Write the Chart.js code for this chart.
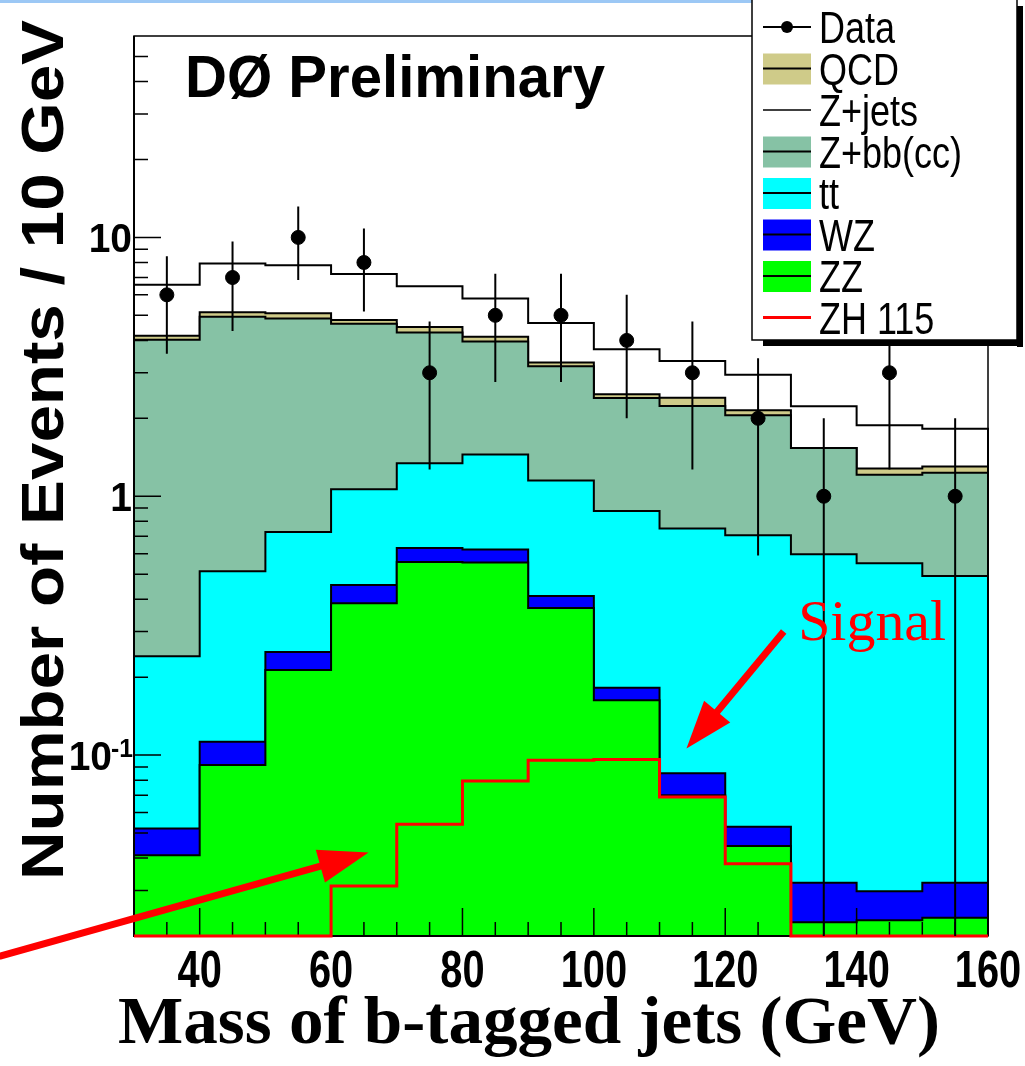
<!DOCTYPE html>
<html>
<head>
<meta charset="utf-8">
<script src="https://cdn.jsdelivr.net/npm/chart.js@4.4.1/dist/chart.umd.min.js"></script>
<style>
  html, body { margin: 0; padding: 0; background: #fff; }
  #wrap { position: relative; width: 1025px; height: 1066px; }
</style>
</head>
<body>
<div id="wrap"><canvas id="chart" width="1025" height="1066"></canvas></div>
<script>
// mass bins, 10 GeV wide
const binEdges = [30, 40, 50, 60, 70, 80, 90, 100, 110, 120, 130, 140, 150, 160];
const binCenters = [35, 45, 55, 65, 75, 85, 95, 105, 115, 125, 135, 145, 155];

// observed events and their errors
const dataCounts = [6, 7, 10, 8, 3, 5, 5, 4, 3, 2, 1, 3, 1];
const dataErrors = [2.45, 2.65, 3.16, 2.83, 1.73, 2.24, 2.24, 2.0, 1.73, 1.41, 1.0, 1.73, 1.0];

// expected backgrounds per bin (stacked bottom to top)
const zz    = [0.041, 0.0915, 0.213, 0.386, 0.557, 0.555, 0.370, 0.163, 0.0699, 0.0445, 0.0226, 0.0230, 0.0235];
const wz    = [0.011, 0.0212, 0.037, 0.068, 0.074, 0.067, 0.042, 0.019, 0.0152, 0.0084, 0.0095, 0.0068, 0.0086];
const ttbar = [0.189, 0.401, 0.478, 0.610, 0.709, 0.828, 0.738, 0.695, 0.665, 0.654, 0.565, 0.521, 0.460];
const zbb   = [3.78, 4.42, 4.13, 3.58, 2.95, 2.51, 2.03, 1.52, 1.48, 1.35, 0.94, 0.66, 0.74];
const qcd   = [0.15, 0.20, 0.24, 0.15, 0.22, 0.17, 0.11, 0.08, 0.17, 0.09, 0, 0.07, 0.07];
const zjets = [2.39, 2.80, 2.71, 2.42, 1.97, 1.68, 1.38, 1.22, 0.93, 0.80, 0.69, 0.60, 0.52];

// signal, not stacked
const zh115 = [0, 0, 0, 0.0312, 0.054, 0.0794, 0.0955, 0.0962, 0.0689, 0.038, 0, 0, 0];

// axes
const xMin = 30, xMax = 160;
const yMin = 0.02, yMax = 60;
const xMajorTicks = [40, 60, 80, 100, 120, 140, 160];
const xMinorTicks = [35, 45, 50, 55, 65, 70, 75, 85, 90, 95, 105, 110, 115, 125, 130, 135, 145, 150, 155];
const yMajorTicks = [0.1, 1, 10];
const yMinorTicks = [0.03, 0.04, 0.05, 0.06, 0.07, 0.08, 0.09, 0.2, 0.3, 0.4, 0.5, 0.6, 0.7, 0.8, 0.9,
                     2, 3, 4, 5, 6, 7, 8, 9, 20, 30, 40, 50];

const SANS = '"Liberation Sans", Arial, Helvetica, sans-serif';
const SERIF = '"Liberation Serif", "Times New Roman", serif';

const layers = [
  { label: 'ZZ',       vals: zz,    color: '#00ff00' },
  { label: 'WZ',       vals: wz,    color: '#0000ff' },
  { label: 'tt',       vals: ttbar, color: '#00ffff' },
  { label: 'Z+bb(cc)', vals: zbb,   color: '#86c2a5' },
  { label: 'QCD',      vals: qcd,   color: '#cfcb89' },
  { label: 'Z+jets',   vals: zjets, color: '#ffffff' }
];

// histogram outline: step points on the left edges, closed at both ends
function histPoints(vals) {
  const pts = [{ x: binEdges[0], y: yMin }];
  vals.forEach((v, i) => pts.push({ x: binEdges[i], y: v > 0 ? v : yMin }));
  const last = vals[vals.length - 1];
  pts.push({ x: binEdges[binEdges.length - 1], y: last > 0 ? last : yMin });
  pts.push({ x: binEdges[binEdges.length - 1], y: yMin });
  return pts;
}

let running = zz.map(() => 0);
const stackSets = layers.map((layer, k) => {
  running = running.map((r, i) => r + layer.vals[i]);
  return {
    label: layer.label,
    data: histPoints(running),
    stepped: true,
    fill: 'start',
    backgroundColor: layer.color,
    borderColor: '#000',
    borderWidth: 2,
    pointRadius: 0,
    order: 10 + k,
    clip: false
  };
});

const zhSet = {
  label: 'ZH 115',
  data: histPoints(zh115),
  stepped: true,
  fill: false,
  borderColor: '#ff0000',
  borderWidth: 3,
  pointRadius: 0,
  order: 2,
  clip: false
};

const dataSet = {
  label: 'Data',
  data: binCenters.map((x, i) => ({ x: x, y: dataCounts[i] })),
  showLine: false,
  pointRadius: 7,
  pointBackgroundColor: '#000',
  pointBorderColor: '#000',
  order: 0,
  clip: false
};

// text squeezed to a given width (the slide fonts are condensed)
function fitText(ctx, str, x, y, font, width, align) {
  ctx.save();
  ctx.font = font;
  const w = ctx.measureText(str).width;
  const sx = width ? width / w : 1;
  ctx.translate(x, y);
  ctx.scale(sx, 1);
  ctx.textAlign = align || 'left';
  ctx.textBaseline = 'alphabetic';
  ctx.fillText(str, 0, 0);
  ctx.restore();
}

function squeezed(ctx, str, x, y, font, k, align) {
  ctx.save();
  ctx.font = font;
  const w = ctx.measureText(str).width;
  ctx.restore();
  fitText(ctx, str, x, y, font, w * k, align);
}

function arrow(ctx, x1, y1, x2, y2, shaft, headLen, headHalf) {
  const ang = Math.atan2(y2 - y1, x2 - x1);
  const len = Math.hypot(x2 - x1, y2 - y1);
  ctx.save();
  ctx.translate(x1, y1);
  ctx.rotate(ang);
  ctx.fillStyle = '#ff0000';
  ctx.fillRect(0, -shaft / 2, len - headLen + 2, shaft);
  ctx.beginPath();
  ctx.moveTo(len, 0);
  ctx.lineTo(len - headLen, -headHalf);
  ctx.lineTo(len - headLen, headHalf);
  ctx.closePath();
  ctx.fill();
  ctx.restore();
}

const rootStyle = {
  id: 'rootStyle',
  beforeDatasetsDraw(chart) {
    const { ctx, chartArea: a } = chart;
    ctx.save();
    ctx.strokeStyle = '#000';
    ctx.lineWidth = 1.5;
    ctx.strokeRect(a.left, a.top, a.right - a.left, a.bottom - a.top);
    ctx.restore();
  },
  beforeDatasetDraw(chart, args) {
    // axes go above the fills but under the signal line and data
    if (chart.data.datasets[args.index].label !== 'ZH 115') return;
    const { ctx, chartArea: a, scales: { x, y } } = chart;
    ctx.save();
    ctx.strokeStyle = '#000';
    ctx.lineWidth = 2;
    ctx.beginPath();
    ctx.moveTo(a.left, a.top);
    ctx.lineTo(a.left, a.bottom);
    ctx.lineTo(a.right, a.bottom);
    ctx.stroke();
    ctx.lineWidth = 1.5;
    ctx.beginPath();
    xMajorTicks.forEach(v => { const px = x.getPixelForValue(v); ctx.moveTo(px, a.bottom); ctx.lineTo(px, a.bottom - 28); });
    xMinorTicks.forEach(v => { const px = x.getPixelForValue(v); ctx.moveTo(px, a.bottom); ctx.lineTo(px, a.bottom - 14); });
    yMajorTicks.forEach(v => { const py = y.getPixelForValue(v); ctx.moveTo(a.left, py); ctx.lineTo(a.left + 27, py); });
    yMinorTicks.forEach(v => { const py = y.getPixelForValue(v); ctx.moveTo(a.left, py); ctx.lineTo(a.left + 14, py); });
    ctx.stroke();
    ctx.restore();
  },
  afterDatasetsDraw(chart) {
    const { ctx, scales: { x, y } } = chart;
    ctx.save();
    ctx.strokeStyle = '#000';
    ctx.lineWidth = 2;
    ctx.beginPath();
    binCenters.forEach((c, i) => {
      const px = x.getPixelForValue(c);
      const lo = Math.max(dataCounts[i] - dataErrors[i], yMin);
      ctx.moveTo(px, y.getPixelForValue(lo));
      ctx.lineTo(px, y.getPixelForValue(dataCounts[i] + dataErrors[i]));
    });
    ctx.stroke();
    ctx.restore();
  },
  afterDraw(chart) {
    const { ctx, chartArea: a, scales: { x, y } } = chart;
    ctx.save();
    ctx.fillStyle = '#000';

    // tick labels
    xMajorTicks.forEach(v => {
      squeezed(ctx, String(v), x.getPixelForValue(v), 987, 'bold 51px ' + SANS, 0.78, 'center');
    });
    squeezed(ctx, '10', a.left - 2, y.getPixelForValue(10) + 15, 'bold 41px ' + SANS, 0.95, 'right');
    squeezed(ctx, '1', a.left - 2, y.getPixelForValue(1) + 15, 'bold 41px ' + SANS, 0.95, 'right');
    squeezed(ctx, '-1', a.left - 1, y.getPixelForValue(0.1) + 2, 'bold 26px ' + SANS, 0.95, 'right');
    squeezed(ctx, '10', a.left - 22, y.getPixelForValue(0.1) + 15, 'bold 41px ' + SANS, 0.95, 'right');

    // axis titles
    fitText(ctx, 'Mass of b-tagged jets (GeV)', 118, 1043, 'bold 68px ' + SERIF, 822, 'left');
    ctx.save();
    ctx.translate(63, 450);
    ctx.rotate(-Math.PI / 2);
    fitText(ctx, 'Number of Events / 10 GeV', 0, 0, 'bold 59px ' + SANS, 860, 'center');
    ctx.restore();

    fitText(ctx, 'D\u00d8 Preliminary', 185, 97, 'bold 60px ' + SANS, 420, 'left');

    // signal annotations
    ctx.fillStyle = '#ff0000';
    fitText(ctx, 'Signal', x.getPixelForValue(131.1), y.getPixelForValue(0.278), '58px ' + SERIF, 148, 'left');
    arrow(ctx, x.getPixelForValue(128.9), y.getPixelForValue(0.300), x.getPixelForValue(114.1), y.getPixelForValue(0.106), 7, 48, 17);
    arrow(ctx, x.getPixelForValue(9.5), y.getPixelForValue(0.0167), x.getPixelForValue(65.7), y.getPixelForValue(0.042), 7, 50, 17);

    // slide artefact line at the very top
    ctx.fillStyle = '#9cc8f5';
    ctx.fillRect(0, 0, 770, 3);

    // legend
    const L = 752, R = 1017, B = 340;
    ctx.fillStyle = '#fff';
    ctx.fillRect(L, -2, R - L, B + 2);
    ctx.strokeStyle = '#000';
    ctx.lineWidth = 1.5;
    ctx.strokeRect(L, -2, R - L, B + 2);
    ctx.fillStyle = '#000';
    ctx.fillRect(R, 6, 6, B + 1);
    ctx.fillRect(L + 11, B, R - L - 5, 6);

    const entries = [
      { label: 'Data', kind: 'data' },
      { label: 'QCD', kind: 'box', color: layers[4].color },
      { label: 'Z+jets', kind: 'line', color: '#000', w: 1.5 },
      { label: 'Z+bb(cc)', kind: 'box', color: layers[3].color },
      { label: 'tt', kind: 'box', color: layers[2].color },
      { label: 'WZ', kind: 'box', color: layers[1].color },
      { label: 'ZZ', kind: 'box', color: layers[0].color },
      { label: 'ZH 115', kind: 'line', color: '#ff0000', w: 3 }
    ];
    const sx0 = 763, sx1 = 811;
    entries.forEach((e, i) => {
      const cy = 27 + i * 41.5;
      if (e.kind === 'box') {
        ctx.fillStyle = e.color;
        ctx.fillRect(sx0, cy - 15, sx1 - sx0, 31);
        ctx.strokeStyle = '#000';
        ctx.lineWidth = 2;
        ctx.beginPath(); ctx.moveTo(sx0, cy); ctx.lineTo(sx1, cy); ctx.stroke();
      } else if (e.kind === 'line') {
        ctx.strokeStyle = e.color;
        ctx.lineWidth = e.w;
        ctx.beginPath(); ctx.moveTo(sx0, cy); ctx.lineTo(sx1, cy); ctx.stroke();
      } else {
        ctx.strokeStyle = '#000';
        ctx.lineWidth = 2;
        ctx.beginPath(); ctx.moveTo(sx0, cy); ctx.lineTo(sx1, cy); ctx.stroke();
        ctx.fillStyle = '#000';
        ctx.beginPath(); ctx.arc((sx0 + sx1) / 2, cy, 6, 0, Math.PI * 2); ctx.fill();
      }
      ctx.fillStyle = '#000';
      squeezed(ctx, e.label, 819, cy + 16, '45px ' + SANS, 0.8, 'left');
    });
    ctx.restore();
  }
};

new Chart(document.getElementById('chart'), {
  type: 'line',
  data: { datasets: [dataSet, zhSet].concat(stackSets) },
  options: {
    responsive: false,
    animation: false,
    devicePixelRatio: 1,
    layout: { padding: { left: 134, right: 37, top: 36, bottom: 130 } },
    plugins: { legend: { display: false }, tooltip: { enabled: false } },
    scales: {
      x: { type: 'linear', min: xMin, max: xMax, display: false },
      y: { type: 'logarithmic', min: yMin, max: yMax, display: false }
    }
  },
  plugins: [rootStyle]
});
</script>
</body>
</html>
